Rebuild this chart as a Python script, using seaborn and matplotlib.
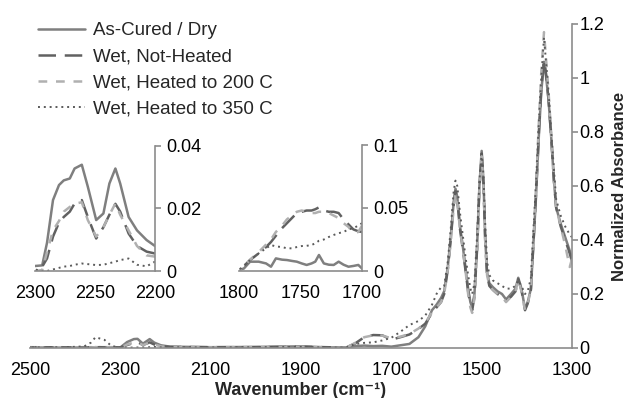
import numpy as np
import pandas as pd
import matplotlib
matplotlib.use("Agg")
import matplotlib.pyplot as plt
from matplotlib.ticker import FuncFormatter
import seaborn as sns

# ---------------- data ----------------
series_names = ["As-Cured / Dry", "Wet, Not-Heated", "Wet, Heated to 200 C", "Wet, Heated to 350 C"]

wn_main = [2500, 2420, 2380, 2365, 2355, 2345, 2335, 2320, 2300, 2285, 2270, 2262, 2250, 2235,
           2225, 2210, 2190, 2100, 2000, 1900, 1850, 1800, 1780, 1760, 1740, 1720, 1700, 1680,
           1660, 1640, 1625, 1610, 1600, 1590, 1583, 1575, 1568, 1562, 1558, 1554, 1548, 1542,
           1536, 1530, 1525, 1521, 1516, 1510, 1505, 1500, 1496, 1492, 1488, 1483, 1475, 1465,
           1455, 1446, 1435, 1425, 1419, 1412, 1404, 1398, 1391, 1385, 1380, 1373, 1368, 1362,
           1357, 1352, 1346, 1340, 1335, 1325, 1315, 1305, 1300]

main_dry = [0.003, 0.002, 0.003, 0.002, 0.003, 0.003, 0.003, 0.003, 0.002, 0.022, 0.033, 0.034, 0.016, 0.033,
            0.020, 0.010, 0.005, 0.003, 0.004, 0.006, 0.003, 0.002, 0.007, 0.009, 0.007, 0.008, 0.005, 0.010,
            0.015, 0.040, 0.080, 0.140, 0.160, 0.185, 0.210, 0.300, 0.420, 0.540, 0.590, 0.560, 0.450, 0.380,
            0.300, 0.220, 0.170, 0.150, 0.200, 0.380, 0.600, 0.730, 0.620, 0.400, 0.280, 0.240, 0.225, 0.210,
            0.200, 0.180, 0.200, 0.220, 0.260, 0.220, 0.145, 0.170, 0.220, 0.400, 0.550, 0.800, 0.950, 1.060,
            1.000, 0.920, 0.780, 0.620, 0.520, 0.460, 0.410, 0.360, 0.330]

main_wet = [0.003, 0.002, 0.002, 0.003, 0.002, 0.003, 0.002, 0.003, 0.002, 0.011, 0.019, 0.022, 0.011, 0.021,
            0.013, 0.007, 0.004, 0.003, 0.003, 0.005, 0.003, 0.002, 0.017, 0.040, 0.048, 0.047, 0.031, 0.040,
            0.050, 0.070, 0.090, 0.130, 0.150, 0.170, 0.200, 0.290, 0.410, 0.530, 0.580, 0.550, 0.440, 0.370,
            0.290, 0.210, 0.160, 0.140, 0.190, 0.370, 0.590, 0.720, 0.610, 0.390, 0.270, 0.230, 0.215, 0.200,
            0.190, 0.175, 0.190, 0.210, 0.255, 0.215, 0.140, 0.165, 0.215, 0.400, 0.560, 0.810, 0.960, 1.070,
            1.010, 0.920, 0.780, 0.620, 0.520, 0.450, 0.400, 0.350, 0.320]

main_200 = [0.002, 0.003, 0.002, 0.002, 0.003, 0.002, 0.003, 0.002, 0.001, 0.013, 0.020, 0.022, 0.011, 0.021,
            0.013, 0.006, 0.004, 0.002, 0.003, 0.005, 0.002, 0.001, 0.019, 0.040, 0.047, 0.046, 0.036, 0.042,
            0.052, 0.072, 0.092, 0.132, 0.150, 0.170, 0.200, 0.290, 0.400, 0.520, 0.570, 0.545, 0.440, 0.370,
            0.290, 0.200, 0.150, 0.130, 0.185, 0.360, 0.580, 0.710, 0.600, 0.390, 0.270, 0.230, 0.215, 0.200,
            0.190, 0.170, 0.190, 0.210, 0.255, 0.210, 0.140, 0.165, 0.215, 0.410, 0.580, 0.850, 1.020, 1.170,
            1.060, 0.950, 0.790, 0.630, 0.520, 0.450, 0.380, 0.300, 0.330]

main_350 = [0.002, 0.003, 0.006, 0.020, 0.040, 0.035, 0.030, 0.008, 0.001, 0.001, 0.002, 0.002, 0.002, 0.003,
            0.004, 0.002, 0.003, 0.002, 0.003, 0.004, 0.002, 0.001, 0.015, 0.019, 0.021, 0.028, 0.038, 0.060,
            0.085, 0.100, 0.120, 0.160, 0.200, 0.225, 0.230, 0.320, 0.450, 0.580, 0.620, 0.600, 0.500, 0.420,
            0.340, 0.270, 0.220, 0.200, 0.240, 0.420, 0.620, 0.720, 0.640, 0.450, 0.320, 0.270, 0.250, 0.240,
            0.230, 0.220, 0.220, 0.230, 0.250, 0.230, 0.200, 0.210, 0.260, 0.450, 0.600, 0.850, 1.000, 1.150,
            1.050, 0.950, 0.800, 0.660, 0.550, 0.490, 0.450, 0.420, 0.410]

wn_in1 = [2300, 2294, 2290, 2285, 2280, 2276, 2271, 2267, 2261, 2256, 2249, 2243, 2238, 2233, 2229, 2222,
          2215, 2207, 2200]
in1_dry = [0.0016, 0.0018, 0.0090, 0.0227, 0.0275, 0.0290, 0.0296, 0.0328, 0.0340, 0.0270, 0.0163, 0.0184,
           0.0280, 0.0328, 0.0280, 0.0173, 0.0130, 0.0099, 0.0080]
in1_wet = [0.0014, 0.0014, 0.0040, 0.0110, 0.0155, 0.0173, 0.0190, 0.0216, 0.0227, 0.0173, 0.0104, 0.0140,
           0.0180, 0.0215, 0.0190, 0.0120, 0.0080, 0.0062, 0.0056]
in1_200 = [0.0000, 0.0003, 0.0060, 0.0130, 0.0160, 0.0190, 0.0205, 0.0215, 0.0220, 0.0163, 0.0110, 0.0140,
           0.0180, 0.0216, 0.0180, 0.0130, 0.0080, 0.0050, 0.0046]
in1_350 = [0.0005, 0.0000, 0.0000, 0.0005, 0.0010, 0.0014, 0.0016, 0.0020, 0.0024, 0.0022, 0.0019, 0.0020,
           0.0025, 0.0030, 0.0035, 0.0040, 0.0020, 0.0015, 0.0030]

wn_in2 = [1800, 1796, 1791, 1784, 1778, 1774, 1770, 1765, 1761, 1757, 1753, 1749, 1745, 1741, 1738, 1735,
          1731, 1727, 1723, 1719, 1715, 1711, 1707, 1703, 1700]
in2_dry = [0.0008, 0.0020, 0.0074, 0.0074, 0.0060, 0.0034, 0.0100, 0.0090, 0.0087, 0.0080, 0.0074, 0.0060,
           0.0048, 0.0060, 0.0074, 0.0127, 0.0060, 0.0050, 0.0048, 0.0074, 0.0050, 0.0034, 0.0040, 0.0048, 0.0020]
in2_wet = [0.0008, 0.0040, 0.0087, 0.0140, 0.0190, 0.0230, 0.0280, 0.0340, 0.0380, 0.0420, 0.0460, 0.0470,
           0.0480, 0.0480, 0.0490, 0.0505, 0.0480, 0.0470, 0.0470, 0.0460, 0.0410, 0.0370, 0.0330, 0.0315, 0.0310]
in2_200 = [0.0005, 0.0040, 0.0090, 0.0150, 0.0210, 0.0250, 0.0310, 0.0360, 0.0410, 0.0440, 0.0470, 0.0480,
           0.0470, 0.0460, 0.0460, 0.0470, 0.0470, 0.0460, 0.0440, 0.0420, 0.0380, 0.0350, 0.0300, 0.0310, 0.0360]
in2_350 = [0.0010, 0.0040, 0.0087, 0.0140, 0.0180, 0.0206, 0.0195, 0.0190, 0.0180, 0.0180, 0.0190, 0.0198,
           0.0200, 0.0206, 0.0220, 0.0240, 0.0250, 0.0270, 0.0286, 0.0300, 0.0310, 0.0330, 0.0340, 0.0360, 0.0380]

main_ticks = [2500, 2300, 2100, 1900, 1700, 1500, 1300]
main_yticks = [0, 0.2, 0.4, 0.6, 0.8, 1.0, 1.2]
in1_xticks = [2300, 2250, 2200]
in1_yticks = [0, 0.02, 0.04]
in2_xticks = [1800, 1750, 1700]
in2_yticks = [0, 0.05, 0.1]

# ---------------- style ----------------
sns.set_style("white")
plt.rcParams["font.family"] = ["Liberation Sans", "DejaVu Sans"]
AX_COL = "#8c8c8c"
styles = [
    dict(color="#7f7f7f", lw=1.8, ls="-"),
    dict(color="#616161", lw=1.8, ls=(0, (7, 3.5))),
    dict(color="#b0b0b0", lw=1.8, ls=(0, (3.5, 3.5))),
    dict(color="#5a5a5a", lw=1.4, ls=(0, (1, 2))),
]
FS = 13

fig = plt.figure(figsize=(6.26, 3.98), dpi=100)
W, H = 626, 398


def px_axes(x0, x1, y_top, y_bot):
    return fig.add_axes([x0 / W, 1 - y_bot / H, (x1 - x0) / W, (y_bot - y_top) / H])


def fmt(v, _):
    return f"{v:g}"


def style_axes(ax, xlim, ylim, xt, yt, ypad=4):
    ax.set_xlim(*xlim)
    ax.set_ylim(*ylim)
    ax.set_xticks(xt)
    ax.set_yticks(yt)
    ax.yaxis.tick_right()
    for s in ["left", "top"]:
        ax.spines[s].set_visible(False)
    for s in ["right", "bottom"]:
        ax.spines[s].set_visible(True)
        ax.spines[s].set_color(AX_COL)
        ax.spines[s].set_linewidth(1.2)
    ax.tick_params(axis="both", direction="out", length=4, width=1.2, color=AX_COL,
                   labelsize=FS, labelcolor="black")
    ax.tick_params(axis="y", pad=ypad)
    ax.tick_params(axis="x", pad=6)
    ax.yaxis.set_major_formatter(FuncFormatter(fmt))
    ax.set_facecolor("none")
    ax.set_xlabel("")
    ax.set_ylabel("")


def draw(ax, x, ys):
    lines = []
    for name, y, st in zip(series_names, ys, styles):
        df = pd.DataFrame({"wn": x, "a": y})
        sns.lineplot(data=df, x="wn", y="a", ax=ax, color=st["color"], linewidth=st["lw"],
                     linestyle=st["ls"], label=name, legend=False, estimator=None)
        lines.append(ax.lines[-1])
    return lines


# main axes
ax = px_axes(30, 572, 24, 348)
handles = draw(ax, wn_main, [main_dry, main_wet, main_200, main_350])
style_axes(ax, (2500, 1300), (0, 1.2), main_ticks, main_yticks, ypad=1.5)
ax.set_xlabel("Wavenumber (cm\u207b\u00b9)", fontsize=FS, fontweight="bold", labelpad=2)
ax.yaxis.set_label_position("right")
ax.set_ylabel("Normalized Absorbance", fontsize=12, fontweight="bold", rotation=90)
ax.yaxis.set_label_coords((612 - 30) / 542, 0.5)

# inset 1
ax1 = px_axes(35, 155, 146, 271)
draw(ax1, wn_in1, [in1_dry, in1_wet, in1_200, in1_350])
style_axes(ax1, (2300, 2200), (0, 0.04), in1_xticks, in1_yticks)

# inset 2
ax2 = px_axes(239, 362, 145, 271)
draw(ax2, wn_in2, [in2_dry, in2_wet, in2_200, in2_350])
style_axes(ax2, (1800, 1700), (0, 0.1), in2_xticks, in2_yticks)

fig.legend(handles, series_names, loc="upper left", bbox_to_anchor=(38 / W, 1 - 22 / H),
           frameon=False, fontsize=13.5, handlelength=2.5, handletextpad=0.45,
           labelspacing=0.48, borderpad=0, borderaxespad=0)

fig.savefig("out.png", dpi=100)
